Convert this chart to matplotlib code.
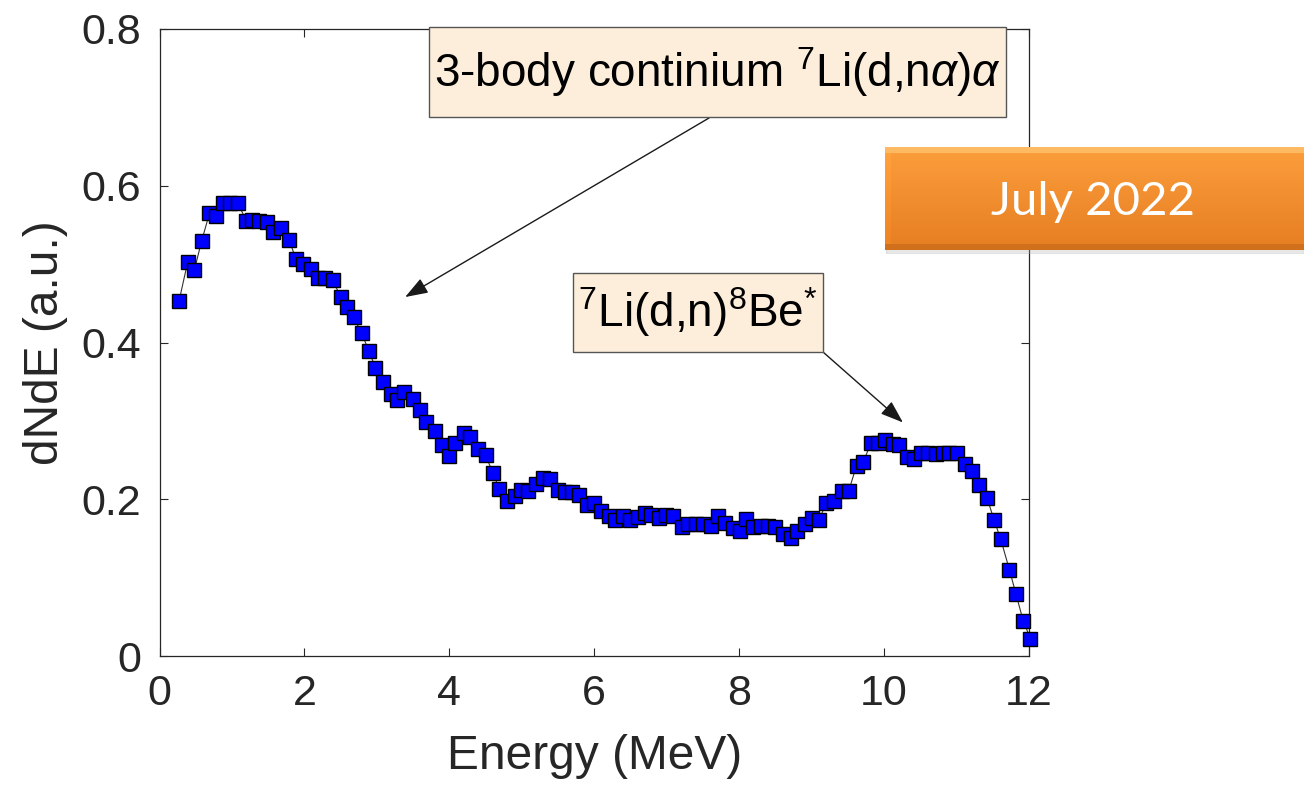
import numpy as np
import matplotlib
matplotlib.use("Agg")
import matplotlib.pyplot as plt
from matplotlib.patches import Rectangle

# Neutron energy spectrum (dN/dE, arbitrary units)
energy_mev = [
    0.27, 0.39, 0.48, 0.58, 0.69, 0.78, 0.87, 0.97, 1.08, 1.20,
    1.27, 1.38, 1.48, 1.57, 1.68, 1.79, 1.88, 1.98, 2.09, 2.19,
    2.28, 2.39, 2.50, 2.59, 2.68, 2.79, 2.89, 2.98, 3.09, 3.19,
    3.28, 3.38, 3.50, 3.59, 3.68, 3.80, 3.90, 3.99, 4.08, 4.20,
    4.29, 4.40, 4.50, 4.60, 4.69, 4.80, 4.90, 4.99, 5.09, 5.19,
    5.29, 5.39, 5.50, 5.59, 5.69, 5.79, 5.90, 5.99, 6.10, 6.21,
    6.29, 6.40, 6.49, 6.60, 6.70, 6.79, 6.90, 6.99, 7.09, 7.21,
    7.30, 7.40, 7.50, 7.61, 7.71, 7.80, 7.91, 8.01, 8.10, 8.19,
    8.30, 8.40, 8.49, 8.61, 8.71, 8.80, 8.91, 9.01, 9.10, 9.20,
    9.31, 9.42, 9.51, 9.62, 9.71, 9.82, 9.91, 10.01, 10.12, 10.21,
    10.31, 10.41, 10.51, 10.61, 10.71, 10.82, 10.90, 11.01, 11.12, 11.21,
    11.31, 11.42, 11.52, 11.61, 11.73, 11.82, 11.92, 12.02,
]
dnde = [
    0.453, 0.503, 0.492, 0.529, 0.565, 0.561, 0.578, 0.578, 0.578, 0.555,
    0.556, 0.555, 0.554, 0.541, 0.546, 0.531, 0.507, 0.500, 0.494, 0.482,
    0.482, 0.480, 0.458, 0.445, 0.432, 0.412, 0.389, 0.368, 0.350, 0.334,
    0.326, 0.337, 0.328, 0.314, 0.299, 0.287, 0.269, 0.255, 0.272, 0.284,
    0.280, 0.264, 0.256, 0.234, 0.213, 0.198, 0.204, 0.212, 0.211, 0.219,
    0.227, 0.226, 0.212, 0.209, 0.209, 0.206, 0.193, 0.195, 0.185, 0.179,
    0.174, 0.179, 0.174, 0.177, 0.182, 0.180, 0.176, 0.180, 0.178, 0.165,
    0.169, 0.169, 0.169, 0.166, 0.178, 0.170, 0.163, 0.159, 0.175, 0.165,
    0.166, 0.166, 0.164, 0.156, 0.151, 0.160, 0.168, 0.176, 0.173, 0.195,
    0.198, 0.210, 0.210, 0.243, 0.247, 0.272, 0.272, 0.275, 0.271, 0.269,
    0.254, 0.251, 0.259, 0.259, 0.258, 0.259, 0.259, 0.259, 0.245, 0.236,
    0.218, 0.202, 0.173, 0.149, 0.110, 0.079, 0.045, 0.022,
]

x_ticks = [0, 2, 4, 6, 8, 10, 12]
y_ticks = [0, 0.2, 0.4, 0.6, 0.8]
y_tick_labels = ["0", "0.2", "0.4", "0.6", "0.8"]

label_continuum = r"3-body continium $^{7}$Li(d,n$\mathit{\alpha}$)$\mathit{\alpha}$"
label_be8 = r"$^{7}$Li(d,n)$^{8}$Be$^{*}$"
badge_text = "July 2022"

plt.rcParams["font.family"] = ["Liberation Sans", "DejaVu Sans"]
plt.rcParams["mathtext.fontset"] = "custom"
plt.rcParams["mathtext.rm"] = "Liberation Sans"
plt.rcParams["mathtext.it"] = "Liberation Sans:italic"
plt.rcParams["mathtext.default"] = "rm"

W, H = 1304, 789
fig = plt.figure(figsize=(W / 100, H / 100), dpi=100)
fig.patch.set_facecolor("white")

def fx(px):
    return px / W

def fy(py):
    return 1 - py / H

ax = fig.add_axes([fx(159.5), fy(656), fx(1029) - fx(159.5), fy(29) - fy(656)])

ink = "#262626"
ax.plot(energy_mev, dnde, "-", color="#333333", lw=0.8, marker="s",
        markersize=10, markerfacecolor="#0000ff", markeredgecolor="black",
        markeredgewidth=1.0, clip_on=False, zorder=3)

ax.set_xlim(0, 12)
ax.set_ylim(0, 0.8)
ax.set_xticks(x_ticks)
ax.set_yticks(y_ticks)
ax.set_yticklabels(y_tick_labels)
ax.tick_params(direction="in", length=5.8, width=0.8, top=True, right=True,
               labelsize=31, colors=ink, pad=13)
for s in ax.spines.values():
    s.set_color(ink)
    s.set_linewidth(0.9)

ax.set_xlabel("Energy (MeV)", fontsize=34.5, color=ink)
ax.set_ylabel("dNdE (a.u.)", fontsize=34.5, color=ink)
ax.xaxis.set_label_coords(0.5, -0.125)
ax.yaxis.set_label_coords(-0.105, 0.5)

# Annotation text boxes
def text_box(x0, y0, x1, y1, text, size):
    rect = Rectangle((fx(x0), fy(y1)), fx(x1) - fx(x0), fy(y0) - fy(y1),
                     transform=fig.transFigure, facecolor="#fdeedb",
                     edgecolor="#555555", lw=1.0, zorder=5)
    fig.add_artist(rect)
    fig.text(fx((x0 + x1) / 2), fy((y0 + y1) / 2), text, ha="center",
             va="center", fontsize=size, color="black", zorder=6)

text_box(429, 27, 1006, 117, label_continuum, 33)
text_box(573, 273, 823, 352, label_be8, 33)

arrow_kw = dict(arrowstyle="-|>,head_length=1.4,head_width=0.5",
                color="#1a1a1a", lw=1.0, shrinkA=0, shrinkB=0)
ax.annotate("", xy=(3.39, 0.458), xycoords="data",
            xytext=(fx(709), fy(118)), textcoords="figure fraction",
            arrowprops=arrow_kw, zorder=6)
ax.annotate("", xy=(10.26, 0.298), xycoords="data",
            xytext=(fx(823), fy(352)), textcoords="figure fraction",
            arrowprops=arrow_kw, zorder=6)

# Orange badge with a vertical gradient and bevelled edges
bx0, by0, bx1, by1 = 885, 147, 1304, 250
shadow = fig.add_axes([fx(bx0 + 1), fy(by1 + 4), fx(bx1) - fx(bx0 + 1),
                       fy(by0 + 4) - fy(by1 + 4)])
shadow.set_axis_off()
shadow.add_patch(Rectangle((0, 0), 1, 1, color="#b0b0b0", alpha=0.3))
shadow.set_xlim(0, 1)
shadow.set_ylim(0, 1)

badge = fig.add_axes([fx(bx0), fy(by1), fx(bx1) - fx(bx0), fy(by0) - fy(by1)])
badge.set_axis_off()
nh, nw = int(by1 - by0), int(bx1 - bx0)
t = np.linspace(0, 1, nh)[:, None]
top_c = np.array([0xfc, 0x9e, 0x3c]) / 255
bot_c = np.array([0xe6, 0x7e, 0x22]) / 255
img = top_c[None, None, :] * (1 - t[..., None]) + bot_c[None, None, :] * t[..., None]
img = np.repeat(img, nw, axis=1)
bev = 6
img[:bev, :, :] = np.array([0xfd, 0xbb, 0x62]) / 255
img[-bev:, :, :] = np.array([0xd2, 0x70, 0x1c]) / 255
for i in range(bev, nh - bev):
    img[i, :bev, :] = np.clip(img[i, bev, :] * 1.03, 0, 1)
badge.imshow(img, aspect="auto", extent=(0, 1, 0, 1), interpolation="bilinear")
badge.set_xlim(0, 1)
badge.set_ylim(0, 1)
badge.text(0.497, 0.47, badge_text, ha="center", va="center", color="white",
           fontsize=34, family=["Lato", "DejaVu Sans"], transform=badge.transAxes)

fig.savefig("out.png", dpi=100)
